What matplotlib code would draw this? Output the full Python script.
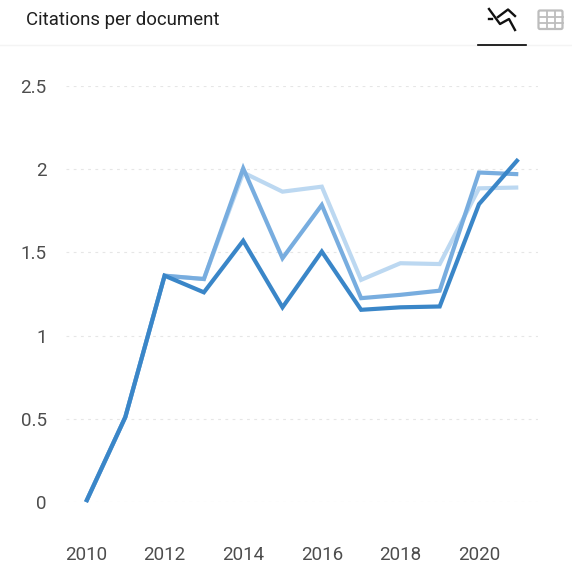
import matplotlib
matplotlib.use("Agg")
import matplotlib.pyplot as plt
from matplotlib.patches import FancyBboxPatch

W, H = 572, 563
years = list(range(2010, 2022))
light = [0, 0.51, 1.36, 1.34, 1.98, 1.865, 1.895, 1.335, 1.435, 1.43, 1.885, 1.89]
mid = [0, 0.51, 1.36, 1.34, 2.005, 1.465, 1.785, 1.225, 1.245, 1.27, 1.98, 1.97]
dark = [0, 0.51, 1.36, 1.26, 1.57, 1.17, 1.505, 1.155, 1.17, 1.175, 1.79, 2.06]
yticks = [0, 0.5, 1, 1.5, 2, 2.5]
ylabels = ["0", "0.5", "1", "1.5", "2", "2.5"]
xticks = [2010, 2012, 2014, 2016, 2018, 2020]
title = "Citations per document"

plt.rcParams["font.family"] = "Roboto"
fig = plt.figure(figsize=(W / 100, H / 100), dpi=100, facecolor="white")
L, R, T, B = 66, 538, 86, 502
ax = fig.add_axes([L / W, 1 - B / H, (R - L) / W, (B - T) / H])
ax.set_ylim(0, 2.5)
ax.set_xlim(2010 - 20 / 39.3, 2010 + (R - 86) / 39.3)
for s in ax.spines.values():
    s.set_visible(False)
ax.set_yticks(yticks, ylabels)
ax.set_xticks(xticks, [str(x) for x in xticks])
ax.tick_params(length=0, labelsize=13.5, labelcolor="#4d4d4d")
ax.tick_params(axis="y", pad=14)
ax.tick_params(axis="x", pad=32)
ax.grid(axis="y", color="#e6e6e6", lw=0.8, ls=(0, (2.5, 4)))
ax.set_axisbelow(True)
for vals, col in ((light, "#bcd8f1"), (mid, "#78addf"), (dark, "#3a86c8")):
    ax.plot(years, vals, color=col, lw=3.0, solid_joinstyle="miter",
            solid_capstyle="butt", clip_on=False)

# header overlay in pixel coordinates
ov = fig.add_axes([0, 0, 1, 1], facecolor="none")
ov.set_xlim(0, W)
ov.set_ylim(H, 0)
ov.axis("off")
ov.text(26, 20, title, fontsize=13.4, color="#1f1f1f", va="center", ha="left")
ov.plot([0, W], [44.5, 44.5], color="#f4f4f4", lw=1)
ov.plot([478, 526], [44.5, 44.5], color="black", lw=1.2)
# chart icon
ov.plot([489, 500, 509, 515], [9, 24, 19, 30], color="#111111", lw=1.7)
ov.plot([498, 508, 515], [17, 9.5, 16], color="#111111", lw=1.7)
ov.plot([488.5, 491.5], [19, 19], color="#111111", lw=1.7)
# table icon
ov.add_patch(FancyBboxPatch((538.5, 10.5), 24, 18.5, boxstyle="round,pad=0,rounding_size=1.5",
                            fc="none", ec="#bdbdbd", lw=1.6))
for x in (546.5, 554.5):
    ov.plot([x, x], [10.5, 29], color="#bdbdbd", lw=1.3)
for y in (16.5, 22.5):
    ov.plot([538.5, 562.5], [y, y], color="#bdbdbd", lw=1.3)
fig.savefig("out.png", dpi=100, facecolor="white")
